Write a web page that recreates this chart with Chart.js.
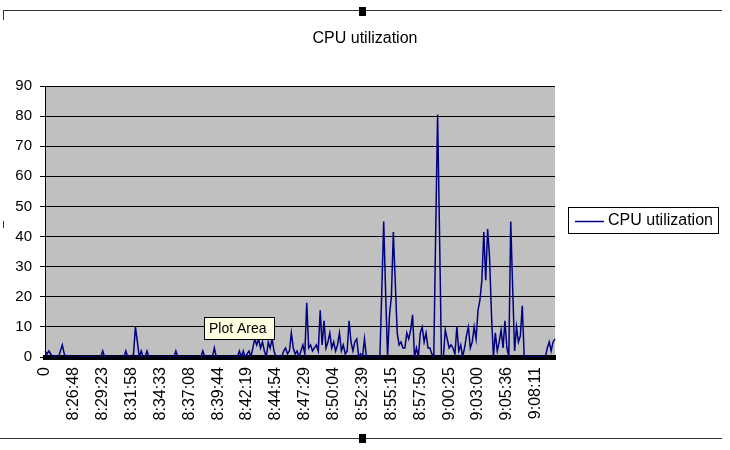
<!DOCTYPE html>
<html><head><meta charset="utf-8">
<script src="https://cdn.jsdelivr.net/npm/chart.js@4.4.1/dist/chart.umd.min.js"></script>
<style>html,body{margin:0;padding:0;background:#fff;}#wrap{width:730px;height:450px;}</style>
</head><body><div id="wrap"><canvas id="c" width="730" height="450"></canvas></div>
<script>
const chartTitle = 'CPU utilization';
const seriesName = 'CPU utilization';
const tickLabels = ['0','8:26:48','8:29:23','8:31:58','8:34:33','8:37:08','8:39:44','8:42:19','8:44:54','8:47:29','8:50:04','8:52:39','8:55:15','8:57:50','9:00:25','9:03:00','9:05:36','9:08:11'];
const labelEvery = 15;
const cpuValues = [
  2,1,2,1,0,0,0,0,2,4,
  1,0,0,0,0,0,0,0,0,0,
  0,0,0,0,0,0,0,0,0,0,
  2,0,0,0,0,0,0,0,0,0,
  0,0,2,0,0,0,1,10,5,0,
  2,0,0,2,0,0,0,0,0,0,
  0,0,0,0,0,0,0,0,2,0,
  0,0,0,0,0,0,0,0,0,0,
  0,0,2,0,0,0,0,0,3,0,
  0,0,0,0,0,0,0,0,0,0,
  0,2,0,2,0,1,2,0,3,6,
  4,6,3,5,2,0,5,3,6,2,
  0,0,0,0,2,3,1,2,8,3,
  1,2,0,2,4,1,18,3,4,2,
  3,4,2,15.5,4,12,3,5,8,3,
  5,2,4,8,2,4,1,2,12,5,
  2,5,6,0,1,0,6,0,0,0,
  0,0,0,0,0,22,45,21,0,14,
  20,41.5,25,8,4,5,3,3,8,6,
  9,14,0,3,0,8,10,5,8,3,
  3,1,0,41,80.5,41,0,0,9,6,
  3,4,3,1,10,2,4,0,3,7,
  10,3,5,10,6,15.5,19,25.5,41.5,25.5,
  42.5,33,14,0,8,2,5,9,3,12,
  3,0,45,23,2,10,5,7,17,0,
  0,0,0,0,0,0,0,0,0,0,
  0,3,5,2,5,6
];
const categories = cpuValues.map((v, i) => i);
const yMin = 0, yMax = 90, yStep = 10;

const FONT = "'Liberation Sans', Arial, sans-serif";
const lineColor = '#000080';

const decor = {
  id: 'decor',
  beforeDraw(chart) {
    const {ctx, chartArea: a} = chart;
    ctx.save();
    ctx.fillStyle = '#ffffff';
    ctx.fillRect(0, 0, chart.width, chart.height);
    ctx.fillStyle = '#c0c0c0';
    ctx.fillRect(a.left, a.top, a.right - a.left, a.bottom - a.top);
    ctx.restore();
  },
  afterDraw(chart) {
    const ctx = chart.ctx;
    ctx.save();
    ctx.strokeStyle = '#333';
    ctx.lineWidth = 1;
    ctx.beginPath();
    ctx.moveTo(3, 10.5); ctx.lineTo(722, 10.5);
    ctx.moveTo(3.5, 10); ctx.lineTo(3.5, 20);
    ctx.moveTo(0, 438.5); ctx.lineTo(722, 438.5);
    ctx.moveTo(3.5, 221); ctx.lineTo(3.5, 228);
    ctx.stroke();
    ctx.fillStyle = '#000';
    ctx.fillRect(359, 7, 7, 9);
    ctx.fillRect(359, 434, 7, 9);
    const ds = chart.data.datasets[0];
    ctx.fillStyle = '#fff';
    ctx.fillRect(568.5, 207.5, 150, 26);
    ctx.strokeStyle = '#000';
    ctx.strokeRect(568.5, 207.5, 150, 26);
    ctx.strokeStyle = ds.borderColor;
    ctx.lineWidth = 1.5;
    ctx.beginPath(); ctx.moveTo(575, 221.5); ctx.lineTo(604, 221.5); ctx.stroke();
    ctx.fillStyle = '#000';
    ctx.font = '16px ' + FONT;
    ctx.textBaseline = 'middle';
    ctx.textAlign = 'left';
    ctx.fillText(ds.label, 608, 221);
    ctx.fillStyle = '#ffffe1';
    ctx.fillRect(204.5, 317.5, 70, 22);
    ctx.strokeStyle = '#000';
    ctx.lineWidth = 1;
    ctx.strokeRect(204.5, 317.5, 70, 22);
    ctx.fillStyle = '#000';
    ctx.font = '14px ' + FONT;
    ctx.fillText('Plot Area', 209, 329);
    ctx.restore();
  }
};

new Chart(document.getElementById('c'), {
  type: 'line',
  data: {
    labels: categories,
    datasets: [{
      label: seriesName,
      data: cpuValues,
      borderColor: lineColor,
      backgroundColor: lineColor,
      borderWidth: 1.5,
      pointRadius: 0,
      tension: 0,
      fill: false
    }]
  },
  options: {
    responsive: false,
    animation: false,
    devicePixelRatio: 1,
    layout: { padding: { left: 0, right: 0, top: 0, bottom: 0 } },
    plugins: {
      legend: { display: false },
      tooltip: { enabled: false },
      title: {
        display: true,
        text: chartTitle,
        color: '#000',
        font: { family: FONT, size: 16, weight: 'normal' },
        padding: { top: 29, bottom: 37.8 }
      }
    },
    scales: {
      x: {
        type: 'category',
        offset: false,
        grid: { display: false, drawTicks: false },
        border: { display: true, color: '#000', width: 5 },
        ticks: {
          autoSkip: false,
          maxRotation: 90,
          minRotation: 90,
          padding: 10,
          color: '#000',
          font: { family: FONT, size: 16 },
          callback: (v, i) => (i % labelEvery === 0 ? (tickLabels[i / labelEvery] ?? '') : '')
        },
        afterFit: s => { s.height = 93; }
      },
      y: {
        min: yMin, max: yMax,
        ticks: { stepSize: yStep, color: '#000', padding: 8, font: { family: FONT, size: 15 } },
        grid: { color: '#000', lineWidth: 1, drawTicks: true, tickLength: 5 },
        border: { display: true, color: '#000', width: 1 },
        afterFit: s => { s.width = 45; }
      },
      yRight: {
        position: 'right',
        display: true,
        grid: { display: false, drawTicks: false },
        border: { display: false },
        ticks: { display: false },
        afterFit: s => { s.width = 175; }
      }
    }
  },
  plugins: [decor]
});
</script>
</body></html>
